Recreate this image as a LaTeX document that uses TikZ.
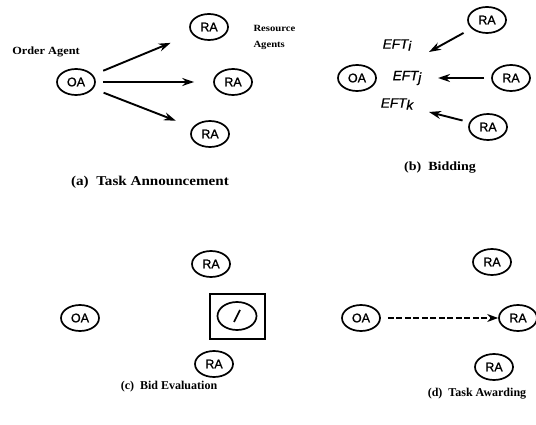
\documentclass[tikz,border=0pt]{standalone}
\usepackage{fontspec}
\setmainfont{Liberation Serif}
\newfontfamily\capfont[FakeStretch=1.12]{Liberation Serif Bold}
\newfontfamily\capfontn{Liberation Serif Bold}
\newfontfamily\agfont[FakeBold=1.2]{Liberation Sans}
\newfontfamily\eftfont[FakeBold=1.2]{Liberation Sans Italic}
\usetikzlibrary{shapes.geometric,arrows.meta}
\tikzset{
  agent/.style={ellipse,draw,line width=1.7pt,minimum width=38pt,minimum height=26pt,inner sep=0pt,font=\agfont\fontsize{12.5}{13}\selectfont},
  caption/.style={font=\capfont\fontsize{13.5}{15}\selectfont},
  captionb/.style={font=\capfont\fontsize{12.5}{15}\selectfont},
  captions/.style={font=\capfontn\fontsize{12}{14}\selectfont},
  lbl/.style={font=\capfont\fontsize{11}{12}\selectfont},
  eft/.style={font=\eftfont\fontsize{13.5}{14}\selectfont},
  arr/.style={line width=1.9pt,-{Stealth[length=12pt,width=8pt]}},
  darr/.style={line width=1.5pt,dash pattern=on 6pt off 2.5pt,-{Stealth[length=11pt,width=8pt]}}
}
\begin{document}
\begin{tikzpicture}[x=1pt,y=-1pt]
\useasboundingbox (0,0) rectangle (536,425);
% (a)
\node[agent] (oa1) at (76,82) {OA};
\node[lbl] (ordl) at (46,52) {Order Agent};
\node[agent] (ra11) at (209,27) {RA};
\node[agent] (ra12) at (233,82) {RA};
\node[agent] (ra13) at (210,134) {RA};
\node[lbl,align=left,anchor=west,font=\capfont\fontsize{9.5}{16}\selectfont] (resl) at (250,37) {Resource\\Agents};
\draw[arr,shorten <=11pt,shorten >=23pt] (oa1) -- (ra11);
\draw[arr,shorten <=7pt,shorten >=19pt] (oa1) -- (ra12);
\draw[arr,shorten <=11pt,shorten >=18pt] (oa1) -- (ra13);
\node[caption] (capa) at (150,182) {(a)\ \ Task Announcement};
% (b)
\node[agent] (oa2) at (357,78) {OA};
\node[agent] (ra21) at (487,20) {RA};
\node[agent] (ra22) at (511,78) {RA};
\node[agent] (ra23) at (488,127) {RA};
\node[eft] (efti) at (397,45) {EFT\raisebox{-2pt}{i}};
\node[eft] (eftj) at (407,78) {EFT\raisebox{-2pt}{j}};
\node[eft] (eftk) at (397,104) {EFT\raisebox{-2pt}{k}};
\coordinate (t1) at (429,52);
\coordinate (t2) at (438,78);
\coordinate (t3) at (429,112);
\draw[arr,shorten <=9pt] (ra21) -- (t1);
\draw[arr,shorten <=7pt] (ra22) -- (t2);
\draw[arr,shorten <=7pt] (ra23) -- (t3);
\node[captionb] (capb) at (440,168) {(b)\ \ Bidding};
% (c)
\node[agent] (oa3) at (80,318) {OA};
\node[agent] (ra31) at (211,264) {RA};
\node[agent] (ra33) at (214,364) {RA};
\node[draw,line width=2pt,minimum width=55pt,minimum height=45pt] (box) at (237,316) {};
\node[ellipse,draw,line width=1.7pt,minimum width=39pt,minimum height=28pt,inner sep=0pt] (sel) at (box.center) {};
\draw[line width=1.7pt] ([shift={(-3,6)}]sel.center) -- ([shift={(3,-6)}]sel.center);
\node[captions] (capc) at (169,387) {(c)\ \ Bid Evaluation};
% (d)
\node[agent] (oa4) at (361,318) {OA};
\node[agent] (ra41) at (492,262) {RA};
\node[agent] (ra42) at (518,318) {RA};
\node[agent] (ra43) at (494,367) {RA};
\draw[darr,shorten <=7pt] (oa4) -- (ra42);
\node[captions] (capd) at (477,394) {(d)\ \ Task Awarding};
\end{tikzpicture}
\end{document}
